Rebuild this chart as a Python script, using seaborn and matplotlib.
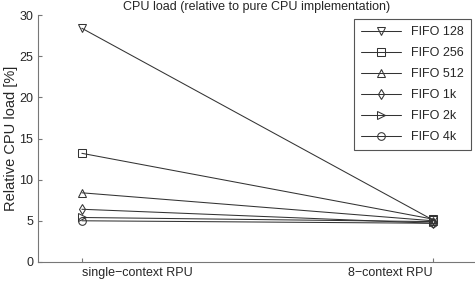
import matplotlib
matplotlib.use("Agg")
import matplotlib.pyplot as plt
import seaborn as sns

categories = ["single\u2212context RPU", "8\u2212context RPU"]
series_names = ["FIFO 128", "FIFO 256", "FIFO 512", "FIFO 1k", "FIFO 2k", "FIFO 4k"]
fifo_128 = [28.4, 5.1]
fifo_256 = [13.2, 5.2]
fifo_512 = [8.4, 5.0]
fifo_1k = [6.4, 4.7]
fifo_2k = [5.4, 4.9]
fifo_4k = [5.0, 4.7]
series_values = [fifo_128, fifo_256, fifo_512, fifo_1k, fifo_2k, fifo_4k]
markers = ["v", "s", "^", "d", ">", "o"]

sns.set_style("ticks")
plt.rcParams["font.family"] = ["Liberation Sans", "DejaVu Sans"]

fig = plt.figure(figsize=(4.75, 2.85), dpi=100)
ax = fig.add_axes([0.08, 0.081, 0.92, 0.866])

for name, vals, m in zip(series_names, series_values, markers):
    sns.lineplot(x=categories, y=vals, marker=m, color="#333333", linewidth=0.75,
                 markersize=5.5, label=name, ax=ax)

for line in ax.lines:
    line.set_markerfacecolor("none")
    line.set_markeredgecolor("#333333")
    line.set_markeredgewidth(0.75)

ax.set_xlim(-0.125, 1.12)
ax.set_ylim(0, 30)
ax.set_yticks([0, 5, 10, 15, 20, 25, 30])
ax.set_ylabel("Relative CPU load [%]", fontsize=10.5, labelpad=1)
ax.set_title("CPU load (relative to pure CPU implementation)", fontsize=9, pad=4)
ax.tick_params(direction="in", labelsize=9, color="#777777", length=3)
ticklabels = ax.get_xticklabels()
ticklabels[0].set_horizontalalignment("left")
ticklabels[-1].set_horizontalalignment("right")
for s in ["left", "bottom"]:
    ax.spines[s].set_color("#777777")
    ax.spines[s].set_linewidth(0.8)
sns.despine(ax=ax)

leg = ax.legend(loc="upper right", fontsize=9, frameon=True, fancybox=False,
                edgecolor="#555555", framealpha=1, handlelength=3.2,
                borderaxespad=0.35, labelspacing=0.72, borderpad=0.55)
leg.get_frame().set_linewidth(0.8)

fig.savefig("out.png", dpi=100)
